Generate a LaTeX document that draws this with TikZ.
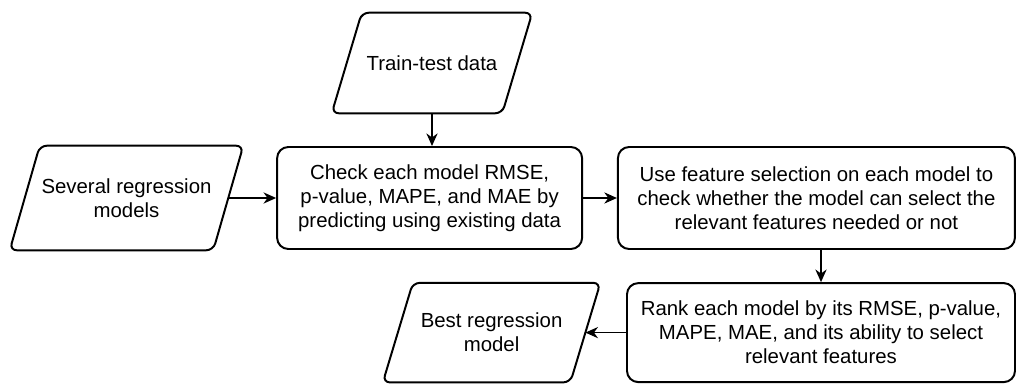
\documentclass[tikz,border=0pt]{standalone}
\usepackage{fontspec}
\setmainfont{Liberation Sans}
\usetikzlibrary{shapes.geometric, arrows.meta, positioning}
% slanted outline round a plain io node
\newcommand{\ioshape}[1]{\draw[line width=1.4pt, rounded corners=5pt] ([xshift=-0.375cm]#1.south west) -- ([xshift=0.375cm]#1.north west) -- ([xshift=0.375cm]#1.north east) -- ([xshift=-0.375cm]#1.south east) -- cycle;}

\begin{document}
\begin{tikzpicture}[
  io/.style={rectangle, align=center, inner sep=0pt},
  step box/.style={rectangle, draw, line width=1.4pt, rounded corners=8pt, align=center, inner sep=0pt},
  flow/.style={-{Stealth[length=9pt, width=8pt]}, line width=0.9pt},
  every node/.style={font=\fontsize{14.5}{17}\selectfont}
]
\useasboundingbox (0,0) rectangle (25.425,9.575);

% Inputs
\node[io, minimum width=4.25cm, minimum height=2.5cm] (T) at (10.8,8.0) {Train-test data};
\node[io, minimum width=5.075cm, minimum height=2.6cm] (S) at (3.1625,4.625) {Several regression\\models};
\ioshape{T}
\ioshape{S}

% Steps
\node[step box, minimum width=7.625cm, minimum height=2.55cm] (C) at (10.74,4.625) {Check each model RMSE,\\p-value, MAPE, and MAE by\\predicting using existing data};
\node[step box, minimum width=9.925cm, minimum height=2.55cm] (U) at (20.41,4.625) {Use feature selection on each model to\\check whether the model can select the\\relevant features needed or not};
\node[step box, minimum width=9.7cm, minimum height=2.475cm] (R) at (20.525,1.26) {Rank each model by its RMSE, p-value,\\MAPE, MAE, and its ability to select\\relevant features};

% Output
\node[io, minimum width=4.675cm, minimum height=2.475cm] (B) at (12.29,1.26) {Best regression\\model};
\ioshape{B}

% Flow
\draw[flow] (T.south) -- (T.south |- C.north);
\draw[flow] (S) -- (C);
\draw[flow] (C) -- (U);
\draw[flow] (R.north |- U.south) -- (R.north);
\draw[flow] (R) -- (B);
\end{tikzpicture}
\end{document}
